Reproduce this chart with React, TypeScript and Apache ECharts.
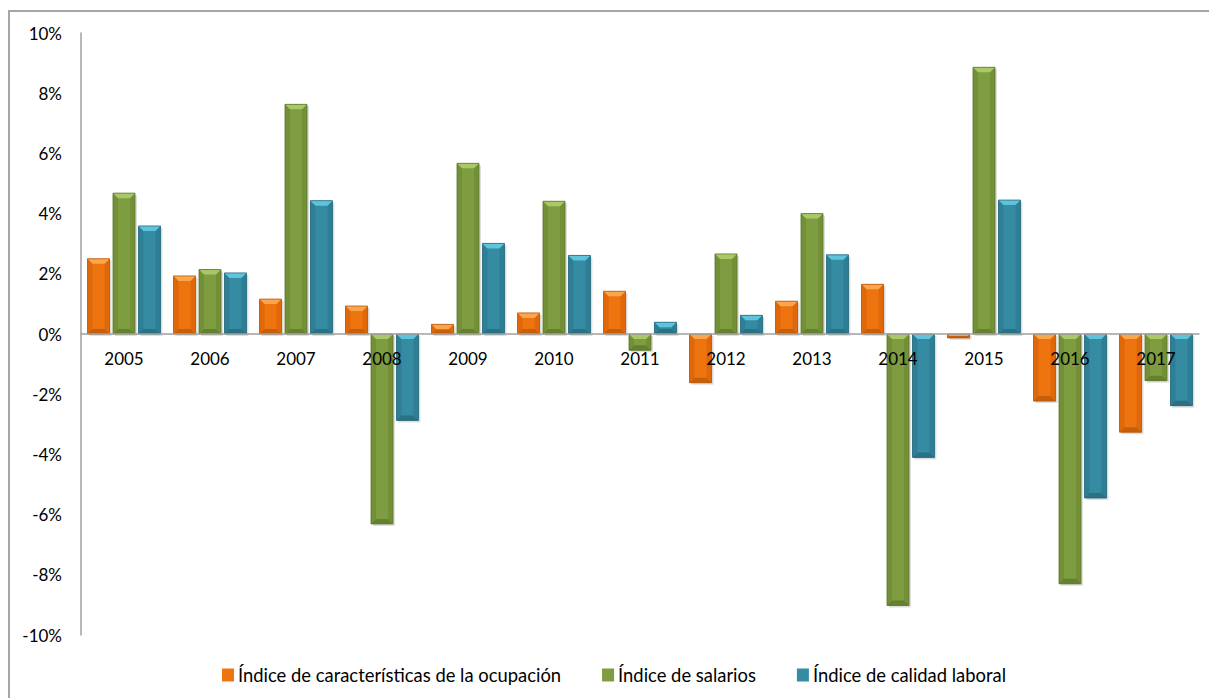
import React, { useEffect, useRef } from "react";
import * as echarts from "echarts";

const years = ["2005", "2006", "2007", "2008", "2009", "2010", "2011", "2012", "2013", "2014", "2015", "2016", "2017"];
const ocupacion = [2.5, 1.93, 1.16, 0.93, 0.32, 0.7, 1.42, -1.62, 1.09, 1.65, -0.13, -2.23, -3.26];
const salarios = [4.68, 2.14, 7.63, -6.31, 5.67, 4.41, -0.54, 2.66, 4.0, -9.02, 8.86, -8.3, -1.55];
const calidad = [3.59, 2.03, 4.43, -2.87, 3.01, 2.61, 0.39, 0.62, 2.63, -4.1, 4.45, -5.45, -2.38];
const seriesNames = [
  "Índice de características de la ocupación",
  "Índice de salarios",
  "Índice de calidad laboral",
];
const yTicks = { min: -10, max: 10, interval: 2 };

const palettes = [
  { base: "#EE7410", light: "#FBA64E", side: "#E0680A", dark: "#C4600C", edge: "#B8560A" },
  { base: "#7E9C40", light: "#A9C967", side: "#738F38", dark: "#65802F", edge: "#5C7629" },
  { base: "#348BA2", light: "#5EC4DE", side: "#2E7F95", dark: "#2A7184", edge: "#25687A" },
];

const FONT = "Lato, 'Open Sans', sans-serif";

const GRID_TOP = 33;
const GRID_H = 602;

function makeRender(idx: number) {
  const pal = palettes[idx];
  return (params: any, api: any) => {
    const cat = api.value(0);
    const v = api.value(1);
    const p0 = api.coord([cat, 0]);
    const p1 = api.coord([cat, v]);
    const band = api.size([1, 0])[0];
    const bw = band * 0.256;
    const gap = band * 0.04;
    const cx = p0[0] + (idx - 1) * (bw + gap);
    const x = cx - bw / 2;
    const yTop = Math.min(p0[1], p1[1]);
    const yBot = Math.max(p0[1], p1[1]);
    const h = yBot - yTop;
    const b = Math.min(5, h / 2);
    const children: any[] = [
      {
        type: "rect",
        shape: { x: x + 2, y: yTop + 2, width: bw, height: h },
        style: { fill: "rgba(0,0,0,0.13)" },
        silent: true,
      },
      {
        type: "rect",
        shape: { x, y: yTop, width: bw, height: h },
        style: { fill: pal.base },
      },
      {
        type: "polygon",
        shape: { points: [[x, yTop], [x + b, yTop + b], [x + b, yBot - b], [x, yBot]] },
        style: { fill: pal.side },
      },
      {
        type: "polygon",
        shape: { points: [[x + bw, yTop], [x + bw - b, yTop + b], [x + bw - b, yBot - b], [x + bw, yBot]] },
        style: { fill: pal.side },
      },
      {
        type: "polygon",
        shape: { points: [[x, yBot], [x + b, yBot - b], [x + bw - b, yBot - b], [x + bw, yBot]] },
        style: { fill: pal.dark },
      },
      {
        type: "polygon",
        shape: { points: [[x, yTop], [x + bw, yTop], [x + bw - b, yTop + b], [x + b, yTop + b]] },
        style: { fill: pal.light },
      },
      {
        type: "rect",
        shape: { x, y: yTop, width: bw, height: h },
        style: { fill: "none", stroke: pal.edge, lineWidth: 0.8 },
      },
    ];
    return { type: "group", children };
  };
}

export default function App() {
  const ref = useRef<HTMLDivElement>(null);
  useEffect(() => {
    if (!ref.current) return;
    const chart = echarts.init(ref.current, null, { renderer: "svg" });
    const allSeries = [ocupacion, salarios, calidad];
    // distance from grid bottom to the zero line, so the year labels sit just under 0%
    const zeroFromBottom = (GRID_H * (0 - yTicks.min)) / (yTicks.max - yTicks.min);
    chart.setOption({
      animation: false,
      backgroundColor: "#ffffff",
      textStyle: { fontFamily: FONT },
      graphic: [
        {
          type: "rect",
          shape: { x: 9, y: 11, width: 1300, height: 800 },
          style: { fill: "none", stroke: "#a6a6a6", lineWidth: 2 },
          silent: true,
          z: -1,
        },
      ],
      grid: { left: 81, top: GRID_TOP, width: 1118, height: GRID_H, containLabel: false },
      legend: {
        left: 217,
        top: 661,
        itemWidth: 12,
        itemHeight: 13,
        itemGap: 41,
        icon: "rect",
        textStyle: { fontFamily: FONT, fontSize: 18.4, color: "#000", padding: [0, 0, 0, -1] },
        data: seriesNames,
      },
      xAxis: {
        type: "category",
        data: years,
        z: 5,
        axisLine: { onZero: true, lineStyle: { color: "#a0a0a0", width: 1.5 } },
        axisTick: { show: false },
        axisLabel: {
          fontFamily: FONT,
          fontSize: 17,
          color: "#000",
          margin: 16 - zeroFromBottom,
        },
        splitLine: { show: false },
      },
      yAxis: {
        type: "value",
        min: yTicks.min,
        max: yTicks.max,
        interval: yTicks.interval,
        axisLine: { show: true, lineStyle: { color: "#a0a0a0", width: 1.5 } },
        axisTick: { show: false },
        splitLine: { show: false },
        axisLabel: {
          fontFamily: FONT,
          fontSize: 17,
          color: "#000",
          margin: 19,
          formatter: (v: number) => `${v}%`,
        },
      },
      series: allSeries.map((vals, i) => ({
        type: "custom",
        name: seriesNames[i],
        renderItem: makeRender(i),
        itemStyle: { color: palettes[i].base },
        encode: { x: 0, y: 1 },
        data: vals.map((v, k) => [k, v]),
        z: 2,
      })),
    });
    return () => chart.dispose();
  }, []);
  return (
    <div
      ref={ref}
      style={{ position: "absolute", left: 0, top: 0, width: 1209, height: 698 }}
    />
  );
}
